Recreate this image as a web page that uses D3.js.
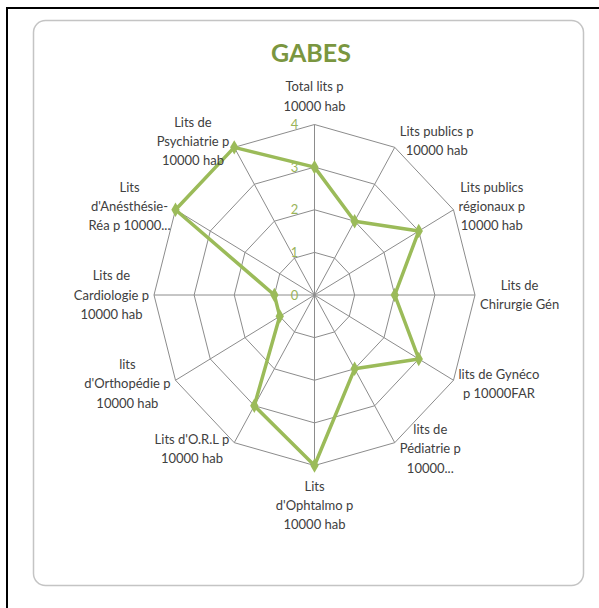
<!DOCTYPE html>
<html>
<head>
<meta charset="utf-8">
<script src="https://cdn.jsdelivr.net/npm/d3@7"></script>
<style>
  body { margin: 0; background: #fff; }
</style>
</head>
<body>
<div id="chart"></div>
<script>
// categories clockwise from the top, one entry per axis (lines split on \n)
let categories = [
    'Total lits p\n10000 hab',
    'Lits publics p\n10000 hab',
    'Lits publics\nrégionaux p\n10000 hab',
    'Lits de\nChirurgie Gén',
    'lits de Gynéco\np 10000FAR',
    'lits de\nPédiatrie p\n10000...',
    'Lits\nd\'Ophtalmo p\n10000 hab',
    'Lits d\'O.R.L p\n10000 hab',
    'lits\nd\'Orthopédie p\n10000 hab',
    'Lits de\nCardiologie p\n10000 hab',
    'Lits\nd\'Anésthésie-\nRéa p 10000...',
    'Lits de\nPsychiatrie p\n10000 hab'
];
let values = [3, 2, 3, 2, 3, 2, 4, 3, 1, 1, 4, 4];
let ticks = [0, 1, 2, 3, 4];
let title = 'GABES';

let width = 599, height = 608;
let cx = 314.5, cy = 295;
let green = '#9bbb59';

let svg = d3.select('#chart')
    .append('svg')
    .attr('width', width)
    .attr('height', height);

// outer frame, only left and top visible
svg.append('rect')
    .attr('x', 7).attr('y', 8)
    .attr('width', 620).attr('height', 620)
    .attr('fill', 'none')
    .attr('stroke', '#000')
    .attr('stroke-width', 2);

// chart area
svg.append('rect')
    .attr('x', 33.5).attr('y', 20.5)
    .attr('width', 550).attr('height', 565)
    .attr('rx', 12).attr('ry', 12)
    .attr('fill', '#fff')
    .attr('stroke', '#c4c4c4')
    .attr('stroke-width', 1.5);

svg.append('text')
    .text(title)
    .attr('x', 311)
    .attr('y', 62)
    .attr('text-anchor', 'middle')
    .attr('font-family', 'Lato, sans-serif')
    .attr('font-weight', 'bold')
    .attr('font-size', 25)
    .attr('fill', '#7a9640');

let n = categories.length;
let angle = d3.scaleLinear().domain([0, n]).range([0, 2 * Math.PI]);
let rx = d3.scaleLinear().domain([0, 4]).range([0, 160.5]);
let ry = d3.scaleLinear().domain([0, 4]).range([0, 170.5]);

let px = (i, v) => cx + rx(v) * Math.sin(angle(i));
let py = (i, v) => cy - ry(v) * Math.cos(angle(i));

let g = svg.append('g');

// rings
let ring = d3.line().curve(d3.curveLinearClosed);
g.selectAll('.ring')
    .data(ticks.filter(t => t > 0))
    .join('path')
    .attr('class', 'ring')
    .attr('d', t => ring(d3.range(n).map(i => [px(i, t), py(i, t)])))
    .attr('fill', 'none')
    .attr('stroke', '#8c8c8c')
    .attr('stroke-width', 1);

// spokes
g.selectAll('.spoke')
    .data(d3.range(n))
    .join('line')
    .attr('class', 'spoke')
    .attr('x1', cx).attr('y1', cy)
    .attr('x2', i => px(i, 4))
    .attr('y2', i => py(i, 4))
    .attr('stroke', '#8c8c8c')
    .attr('stroke-width', 1);

// tick labels on the top axis
g.selectAll('.tick')
    .data(ticks)
    .join('text')
    .attr('class', 'tick')
    .attr('x', cx - 20)
    .attr('y', t => py(0, t))
    .attr('dy', '0.35em')
    .attr('text-anchor', 'middle')
    .attr('font-family', 'Lato, sans-serif')
    .attr('font-size', 13)
    .attr('fill', '#9ab45a')
    .text(t => t);

// series
g.append('path')
    .attr('d', ring(values.map((v, i) => [px(i, v), py(i, v)])))
    .attr('fill', 'none')
    .attr('stroke', green)
    .attr('stroke-width', 3.5)
    .attr('stroke-linejoin', 'round');

g.selectAll('.marker')
    .data(values)
    .join('path')
    .attr('class', 'marker')
    .attr('transform', (v, i) => `translate(${px(i, v)},${py(i, v)})`)
    .attr('d', d3.symbol(d3.symbolDiamond, 60))
    .attr('fill', green);

// category labels, each a centred block next to its axis end
let lh = 19.3;
g.selectAll('.cat')
    .data(categories)
    .join('text')
    .attr('class', 'cat')
    .attr('font-family', 'Lato, sans-serif')
    .attr('font-size', 13)
    .attr('fill', '#404040')
    .attr('text-anchor', 'middle')
    .each(function (d, i) {
        let lines = d.split('\n');
        let s = Math.sin(angle(i)), c = Math.cos(angle(i));
        let x = px(i, 4), y = py(i, 4);
        let spans = d3.select(this)
            .selectAll('tspan')
            .data(lines)
            .join('tspan')
            .attr('dy', '0.35em')
            .text(l => l);
        let w = d3.max(spans.nodes(), t => t.getComputedTextLength());
        let y0;
        if (s > 0.01) x += 5 + w / 2;
        else if (s < -0.01) x -= 5 + w / 2;
        if (Math.abs(s) < 0.01 && c > 0) y0 = y - 18.5 - (lines.length - 1) * lh;
        else if (Math.abs(s) < 0.01) y0 = y + 20.5;
        else y0 = y - (lines.length - 1) * lh / 2 - 7 * c;
        spans.attr('x', x)
            .attr('y', (l, k) => y0 + k * lh);
    });
</script>
</body>
</html>
